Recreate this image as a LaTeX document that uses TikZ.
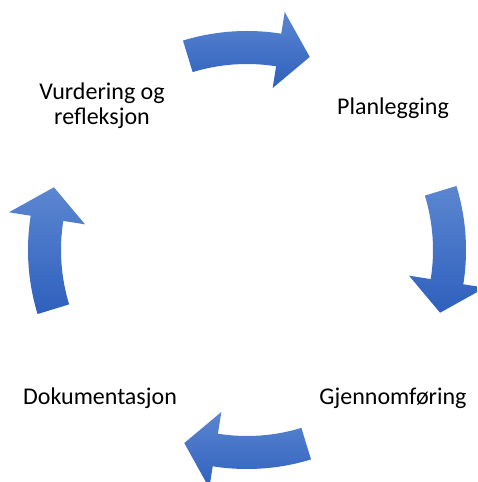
\documentclass[tikz,border=0pt]{standalone}
\usepackage{fontspec}
\setmainfont{Carlito}
\definecolor{arrtop}{RGB}{92,134,209}
\definecolor{arrbot}{RGB}{46,96,189}
\begin{document}
\begin{tikzpicture}[x=1pt,y=1pt,
  lbl/.style={inner sep=0pt,align=center,font=\fontsize{24}{25}\selectfont,anchor=base},
  cyclearrow/.style={top color=arrtop,bottom color=arrbot,draw=none}]
\useasboundingbox (0,0) rectangle (477,482);
\clip (0,0) rectangle (477,482);
\begin{scope}[shift={(247,232)}]
\foreach \k in {0,1,2,3}{
  \pgfmathsetmacro{\a}{107-90*\k}
  \pgfmathsetmacro{\b}{81-90*\k}
  \pgfmathsetmacro{\t}{72-90*\k}
  \shade[cyclearrow] (\a:219) arc[start angle=\a,end angle=\b,radius=219]
     -- (\b:241) -- (\t:203) -- (\b:164) -- (\b:186)
     arc[start angle=\b,end angle=\a,radius=186] -- cycle;
}
\end{scope}
\node[lbl] (plan) at (393,367) {Planlegging};
\node[lbl] (gjen) at (393,77) {Gjennomføring};
\node[lbl] (dok) at (100,77) {Dokumentasjon};
\node[lbl] (vurd) at (102,357) {Vurdering og\\refleksjon};
\end{tikzpicture}
\end{document}
